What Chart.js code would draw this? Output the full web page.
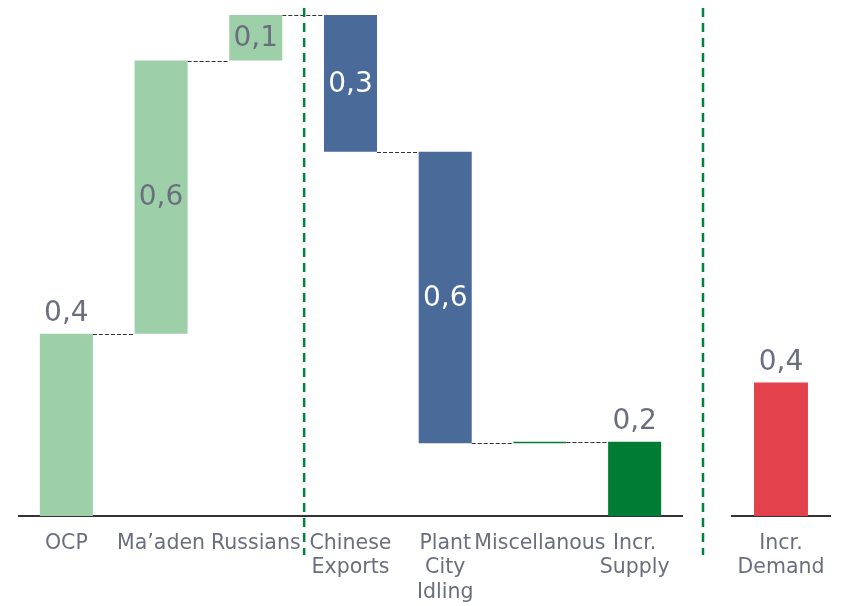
<!DOCTYPE html>
<html>
<head>
<meta charset="utf-8">
<script src="https://cdn.jsdelivr.net/npm/chart.js@4"></script>
<style>
  body { margin: 0; background: #fff; }
  #wrap { position: relative; width: 842px; height: 606px; }
  .box { position: absolute; top: 0; height: 606px; }
  #box1 { left: 0; width: 690px; }
  #box2 { left: 690px; width: 152px; }
</style>
</head>
<body>
<div id="wrap">
  <div class="box" id="box1"><canvas id="supply-chart"></canvas></div>
  <div class="box" id="box2"><canvas id="demand-chart"></canvas></div>
</div>
<script>
// data
const categories = ['OCP', 'Ma’aden', 'Russians', ['Chinese', 'Exports'], ['Plant', 'City', 'Idling'], 'Miscellanous', ['Incr.', 'Supply']];
const changes = [0.4, 0.6, 0.1, -0.3, -0.64, 0.003]; // the last bar is the total
const demandCategories = [['Incr.', 'Demand']];
const demandValues = [0.4];

const textGrey = '#6b6e7e';
const fontName = '"DejaVu Sans", Verdana, sans-serif';

// floating bars for the waterfall
let running = 0;
const ranges = changes.map(c => {
  const r = [running, running + c];
  running += c;
  return r;
});
ranges.push([0, running]);

const barColors = ['#9dd0a8', '#9dd0a8', '#9dd0a8', '#4a6a99', '#4a6a99', '#007c34', '#007c34'];
const labelPos = ['top', 'center', 'center', 'center', 'center', 'none', 'top'];
const labelColors = [textGrey, textGrey, textGrey, '#ffffff', '#ffffff', null, textGrey];

const fmt = v => Math.abs(v).toFixed(1).replace('.', ',');

// value labels
function drawLabels(chart, values, positions, colors) {
  const ctx = chart.ctx;
  const bars = chart.getDatasetMeta(0).data;
  ctx.save();
  ctx.font = '28px ' + fontName;
  ctx.textAlign = 'center';
  bars.forEach((bar, i) => {
    if (positions[i] === 'none') return;
    const top = Math.min(bar.y, bar.base);
    const bottom = Math.max(bar.y, bar.base);
    ctx.fillStyle = colors[i];
    if (positions[i] === 'top') {
      ctx.textBaseline = 'bottom';
      ctx.fillText(fmt(values[i]), bar.x, top - 6);
    } else {
      ctx.textBaseline = 'middle';
      ctx.fillText(fmt(values[i]), bar.x, (top + bottom) / 2 + 1);
    }
  });
  ctx.restore();
}

function drawSeparator(ctx, x, y1, y2) {
  ctx.save();
  ctx.strokeStyle = '#00843d';
  ctx.lineWidth = 2.5;
  ctx.setLineDash([9, 6]);
  ctx.beginPath();
  ctx.moveTo(x, y1);
  ctx.lineTo(x, y2);
  ctx.stroke();
  ctx.restore();
}

const waterfallPlugin = {
  id: 'waterfall',
  beforeDatasetsDraw(chart) {
    // dashed connectors between bars
    const ctx = chart.ctx;
    const bars = chart.getDatasetMeta(0).data;
    const y = chart.scales.y;
    ctx.save();
    ctx.strokeStyle = '#333';
    ctx.lineWidth = 1;
    ctx.setLineDash([4, 2]);
    for (let i = 0; i < bars.length - 1; i++) {
      const py = Math.round(y.getPixelForValue(ranges[i][1])) + 0.5;
      ctx.beginPath();
      ctx.moveTo(bars[i].x + bars[i].width / 2, py);
      ctx.lineTo(bars[i + 1].x - bars[i + 1].width / 2, py);
      ctx.stroke();
    }
    ctx.restore();
  },
  afterDatasetsDraw(chart) {
    drawLabels(chart, ranges.map(r => r[1] - r[0]), labelPos, labelColors);
  },
  afterDraw(chart) {
    const x = chart.scales.x;
    const sx = (x.getPixelForValue(2) + x.getPixelForValue(3)) / 2 + 1;
    drawSeparator(chart.ctx, sx, chart.chartArea.top - 7, chart.chartArea.bottom + 39);
  }
};

const demandPlugin = {
  id: 'demand',
  afterDatasetsDraw(chart) {
    drawLabels(chart, demandValues, ['top'], [textGrey]);
  },
  afterDraw(chart) {
    drawSeparator(chart.ctx, chart.chartArea.left - 29, chart.chartArea.top - 7, chart.chartArea.bottom + 39);
  }
};

function xAxis() {
  return {
    grid: { display: false, drawTicks: false },
    border: { display: true, color: '#333', width: 2 },
    ticks: {
      color: textGrey,
      font: { family: fontName, size: 20.5, lineHeight: 1.2 },
      padding: 15,
      maxRotation: 0,
      autoSkip: false
    },
    afterFit(scale) {
      scale.height = 90;
      // the layout padding already leaves room for the labels
      scale.paddingLeft = 0;
      scale.paddingRight = 0;
    }
  };
}

Chart.defaults.animation = false;

new Chart(document.getElementById('supply-chart'), {
  type: 'bar',
  data: {
    labels: categories,
    datasets: [{
      data: ranges,
      backgroundColor: barColors,
      borderWidth: 0,
      barPercentage: 1,
      categoryPercentage: 0.56
    }]
  },
  options: {
    responsive: true,
    maintainAspectRatio: false,
    layout: { padding: { top: 15, left: 19, right: 8, bottom: 0 } },
    scales: {
      x: xAxis(),
      y: { display: false, min: 0, max: 1.1 }
    },
    plugins: { legend: { display: false }, tooltip: { enabled: false } }
  },
  plugins: [waterfallPlugin]
});

new Chart(document.getElementById('demand-chart'), {
  type: 'bar',
  data: {
    labels: demandCategories,
    datasets: [{
      data: demandValues,
      backgroundColor: '#e3414b',
      borderWidth: 0,
      barPercentage: 1,
      categoryPercentage: 0.55
    }]
  },
  options: {
    responsive: true,
    maintainAspectRatio: false,
    layout: { padding: { top: 15, left: 42, right: 12, bottom: 0 } },
    scales: {
      x: xAxis(),
      y: { display: false, min: 0, max: 1.5 }
    },
    plugins: { legend: { display: false }, tooltip: { enabled: false } }
  },
  plugins: [demandPlugin]
});
</script>
</body>
</html>
